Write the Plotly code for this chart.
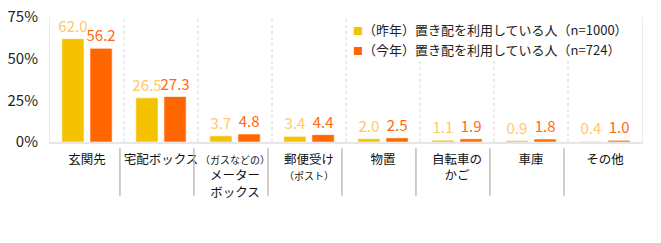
import plotly.graph_objects as go

categories = ["玄関先", "宅配ボックス",
              "<span style='font-size:10px'>（ガスなどの）</span><br>メーター<br>ボックス",
              "郵便受け<br><span style='font-size:10px'>（ポスト）</span>",
              "物置", "自転車の<br>かご", "車庫", "その他"]
last_year = [62.0, 26.5, 3.7, 3.4, 2.0, 1.1, 0.9, 0.4]
this_year = [56.2, 27.3, 4.8, 4.4, 2.5, 1.9, 1.8, 1.0]
series_names = ["（昨年）置き配を利用している人（n=1000）", "（今年）置き配を利用している人（n=724）"]
bar_colors = ["#F5C200", "#FF6600"]
text_colors = ["#FFC86A", "#FF6A10"]
y_ticks = [0, 25, 50, 75]

FONT = "Noto Sans CJK JP"
x_idx = list(range(len(categories)))

fig = go.Figure()
for vals, name, bc, tc in zip([last_year, this_year], series_names, bar_colors, text_colors):
    fig.add_trace(go.Bar(
        x=x_idx, y=vals, name=name,
        marker=dict(color=bc, line=dict(color="rgba(255,255,255,0.6)", width=1)),
        text=[f"{v:.1f}" for v in vals], textposition="outside",
        textfont=dict(color=tc, size=15, family=FONT),
        constraintext="none", cliponaxis=False, showlegend=False,
    ))

fig.update_layout(
    width=661, height=243,
    margin=dict(l=50, r=19, t=17, b=101, autoexpand=False),
    paper_bgcolor="white", plot_bgcolor="white",
    barmode="group", bargap=0.24, bargroupgap=0.21,
    font=dict(family=FONT, color="#222"),
    showlegend=False,
)
fig.update_xaxes(
    tickmode="array", tickvals=x_idx, ticktext=categories, tickangle=0,
    range=[-0.5, len(categories) - 0.5], automargin=False,
    tickfont=dict(size=12.5, color="#111", family=FONT),
    showgrid=False, ticks="", showline=True, linecolor="#e6e6e6", linewidth=2,
    mirror=False, zeroline=False, ticklabelstandoff=5,
)
fig.update_yaxes(
    range=[0, 75], tickvals=y_ticks, ticktext=[f"{t}%" for t in y_ticks],
    tickfont=dict(size=15, color="#222", family=FONT), automargin=False,
    showgrid=False, zeroline=False, showline=True, linecolor="#ececec", linewidth=1,
    mirror=True, ticks="", ticklabelstandoff=8,
)

# category boundary gridlines (dotted) and separators below axis
for i in range(len(categories) - 1):
    b = i + 0.5
    fig.add_shape(type="line", xref="x", yref="paper", x0=b, x1=b, y0=0, y1=1,
                  line=dict(color="#d4d4d4", width=1, dash="dot"), layer="below")
    fig.add_shape(type="line", xref="x", yref="paper", x0=b - 0.055, x1=b - 0.055,
                  y0=-0.05, y1=-0.43, line=dict(color="#bdbdbd", width=1.5))

# legend drawn as annotations
for k, (name, bc) in enumerate(zip(series_names, bar_colors)):
    fig.add_annotation(
        xref="paper", yref="paper", x=0.51, y=0.9 - k * 0.158,
        xanchor="left", yanchor="middle", showarrow=False,
        text=f"<span style='color:{bc};font-size:10px'>■</span>{name}",
        font=dict(size=13, color="#222", family=FONT),
        bgcolor="white", borderpad=0,
    )

fig.write_html("out.html")
